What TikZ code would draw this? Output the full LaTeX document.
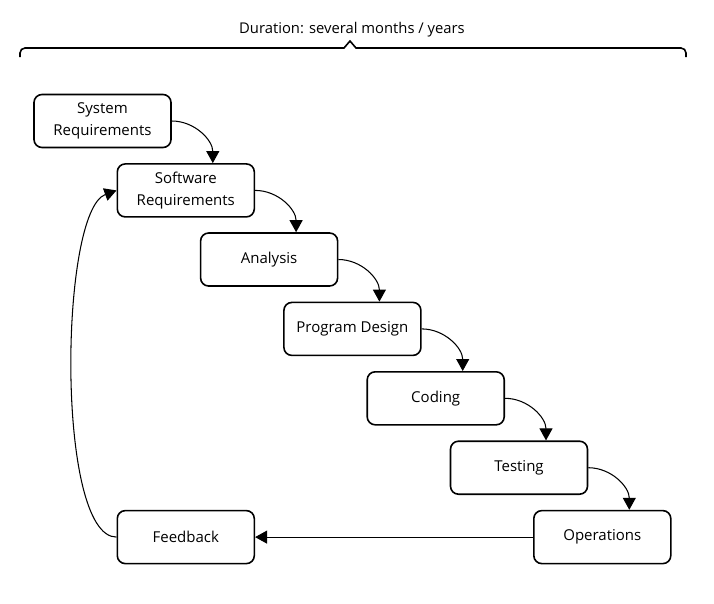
\documentclass[tikz,border=0pt]{standalone}
\usepackage{fontspec}
\setmainfont{Open Sans}
\usetikzlibrary{arrows.meta}

\begin{document}
\begin{tikzpicture}[x=1pt,y=1pt,
%shorten >=1pt,
draw=black]
    \tikzstyle{phase}=[draw, rounded corners=8pt, line width=1.6pt, minimum width=137pt, minimum height=53pt, inner sep=0pt, align=center, font=\fontsize{15}{21.7}\selectfont]
    \tikzstyle{flow}=[line width=1.05pt, -{Triangle[length=12pt,width=13pt]}]

\useasboundingbox (0,0) rectangle (714,-603);

\node[font=\fontsize{14.8}{17}\selectfont] (dur) at (352,-30) {Duration: several months / years};
\draw[line width=1.6pt] (20,-57) -- (20,-53) arc(180:90:5) -- (344,-48) -- (350,-41) -- (356,-48) -- (681,-48) arc(90:0:5) -- (686,-57);

\node[phase] (sys) at (102.5,-121) {System\\Requirements};
\node[phase] (sw) at (185.8,-190.4) {Software\\Requirements};
\node[phase] (ana) at (269.1,-259.5) {Analysis};
\node[phase] (des) at (352.4,-328.9) {Program Design};
\node[phase] (cod) at (435.7,-398.3) {Coding};
\node[phase] (tes) at (519,-467.7) {Testing};
\node[phase] (ops) at (602.3,-537.1) {Operations};
\node[phase] (fb) at (185.8,-537.1) {Feedback};

\foreach \a/\b in {sys/sw,sw/ana,ana/des,des/cod,cod/tes,tes/ops}{
\draw[flow] (\a.east) to[out=0,in=90] ([xshift=27pt]\b.north);
};
\draw[flow] (ops.west) -- (fb.east);
%\draw[flow] (fb.west) to[bend left] (sw.west);
\draw[flow] (fb.west) to[out=180,in=200,looseness=0.45] (sw.west);
\end{tikzpicture}
\end{document}
